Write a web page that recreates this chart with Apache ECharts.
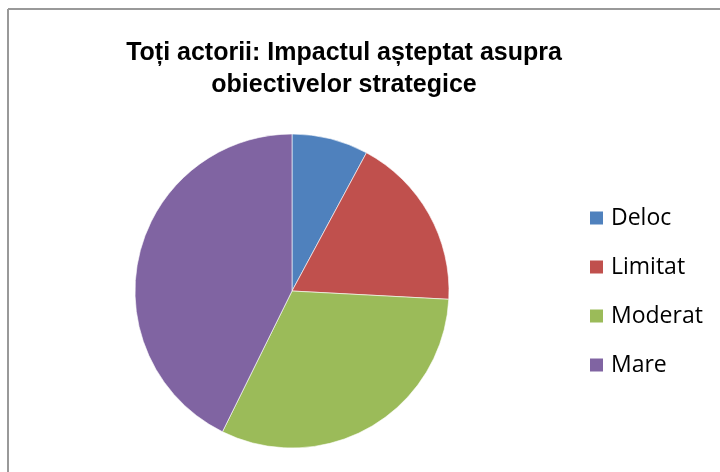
<!DOCTYPE html>
<html>
<head>
<meta charset="utf-8">
<script src="https://cdn.jsdelivr.net/npm/echarts@6/dist/echarts.min.js"></script>
<style>
html,body{margin:0;padding:0;background:#fff;}
#chart{width:720px;height:472px;}
</style>
</head>
<body>
<div id="chart"></div>
<script>
const titleText = "Toți actorii: Impactul așteptat asupra\nobiectivelor strategice";
const categories = ["Deloc", "Limitat", "Moderat", "Mare"];
const values = [7, 16, 28, 38];
const colors = ["#4F81BD", "#C0504D", "#9BBB59", "#8064A2"];

const chart = echarts.init(document.getElementById('chart'), null, {renderer: 'canvas'});
chart.setOption({
  animation: false,
  backgroundColor: '#ffffff',
  color: colors,
  title: {
    text: titleText,
    left: 339,
    top: 32,
    textAlign: 'center',
    textStyle: {
      fontFamily: 'Liberation Sans',
      fontWeight: 'bold',
      fontSize: 25,
      lineHeight: 32,
      color: '#000'
    }
  },
  legend: {
    orient: 'vertical',
    left: 583,
    top: 201,
    itemWidth: 15,
    itemHeight: 15,
    itemGap: 25,
    icon: 'rect',
    data: categories,
    textStyle: {
      fontFamily: 'Open Sans',
      fontSize: 23,
      lineHeight: 24,
      color: '#000',
      padding: [0, 0, 0, 2]
    }
  },
  graphic: [
    {type: 'line', shape: {x1: 8, y1: 9, x2: 720, y2: 9}, style: {stroke: '#999', lineWidth: 2}},
    {type: 'line', shape: {x1: 8, y1: 9, x2: 8, y2: 472}, style: {stroke: '#999', lineWidth: 2}}
  ],
  series: [{
    type: 'pie',
    center: [292, 291],
    radius: 157,
    startAngle: 90,
    clockwise: true,
    label: {show: false},
    labelLine: {show: false},
    emphasis: {disabled: true},
    itemStyle: {borderColor: '#ffffff', borderWidth: 0.6},
    data: categories.map((c, i) => ({name: c, value: values[i]}))
  }]
});
</script>
</body>
</html>
